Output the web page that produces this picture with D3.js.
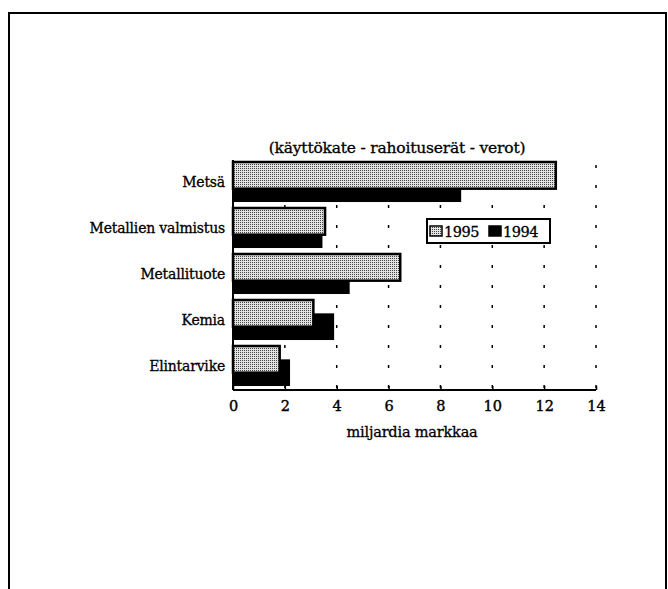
<!DOCTYPE html>
<html>
<head>
<meta charset="utf-8">
<script src="https://cdnjs.cloudflare.com/ajax/libs/d3/7.8.5/d3.min.js"></script>
<style>
body { margin: 0; background: #fff; }
</style>
</head>
<body>
<script>
'use strict';
let categories = ["Metsä", "Metallien valmistus", "Metallituote", "Kemia", "Elintarvike"];
let values1995 = [12.45, 3.55, 6.45, 3.1, 1.8];
let values1994 = [8.8, 3.45, 4.5, 3.9, 2.2];
let tickValues = [0, 2, 4, 6, 8, 10, 12, 14];
let seriesNames = ["1995", "1994"];

const serif = "'DejaVu Serif', serif";

let svg = d3.select("body").append("svg")
	.attr("width", 668)
	.attr("height", 589)
	.style("font-family", serif);

// dotted fill like the scanned screen
let defs = svg.append("defs");
let pat = defs.append("pattern")
	.attr("id", "dots")
	.attr("width", 2).attr("height", 2)
	.attr("patternUnits", "userSpaceOnUse");
pat.append("rect").attr("width", 2).attr("height", 2).attr("fill", "#e2e2e2");
pat.append("rect").attr("width", 1).attr("height", 1).attr("fill", "#444");

// outer frame (bottom edge runs off the page)
svg.append("path")
	.attr("d", "M9,600 V13 H666 V600")
	.attr("fill", "none")
	.attr("stroke", "#000")
	.attr("stroke-width", 2);

let x = d3.scaleLinear().domain([0, 14]).range([233, 596]);
let y = d3.scaleBand().domain(categories).range([160, 390]).padding(0);
let bw = y.bandwidth();
let barH = bw * 0.58;

// dotted grid lines
svg.selectAll("line.grid")
	.data(tickValues.slice(1))
	.enter().append("line")
		.attr("class", "grid")
		.attr("x1", function(d){return x(d);})
		.attr("x2", function(d){return x(d);})
		.attr("y1", 160)
		.attr("y2", 390)
		.attr("stroke", "#000")
		.attr("stroke-width", 1.5)
		.attr("stroke-dasharray", "3,17")
		.attr("stroke-dashoffset", -5);

// 1994 bars (behind)
svg.selectAll("rect.b1994")
	.data(values1994)
	.enter().append("rect")
		.attr("class", "b1994")
		.attr("x", x(0))
		.attr("y", function(d,i){return y(categories[i]) + 2 + barH/2;})
		.attr("width", function(d){return x(d) - x(0);})
		.attr("height", barH)
		.attr("fill", "#000");

// 1995 bars (front)
svg.selectAll("rect.b1995")
	.data(values1995)
	.enter().append("rect")
		.attr("class", "b1995")
		.attr("x", x(0))
		.attr("y", function(d,i){return y(categories[i]) + 2;})
		.attr("width", function(d){return x(d) - x(0);})
		.attr("height", barH)
		.attr("fill", "url(#dots)")
		.attr("stroke", "#000")
		.attr("stroke-width", 2.5);

// axes
let xAxis = svg.append("g")
	.attr("transform", "translate(0,390)")
	.call(d3.axisBottom(x).tickValues(tickValues).tickSize(-4).tickPadding(11));
xAxis.attr("font-family", null);
xAxis.select(".domain").attr("stroke-width", 2).attr("d", "M" + x(0) + ",0H" + x(14));
xAxis.selectAll(".tick line").attr("stroke-width", 1.5);
xAxis.selectAll("text")
	.style("font-family", serif)
	.style("font-size", "14.5px")
	.attr("stroke", "#000").attr("stroke-width", 0.4);

let yAxis = svg.append("g")
	.attr("transform", "translate(233,0)")
	.call(d3.axisLeft(y).tickSize(0).tickPadding(8));
yAxis.attr("font-family", null);
yAxis.select(".domain").attr("stroke-width", 2).attr("d", "M0,160V390");
yAxis.selectAll("text")
	.style("font-family", serif)
	.style("font-size", "14px")
	.style("letter-spacing", "-0.2px")
	.attr("stroke", "#000").attr("stroke-width", 0.3);

// title and axis label
svg.append("text")
	.attr("x", 397).attr("y", 153)
	.attr("text-anchor", "middle")
	.style("font-family", serif)
	.style("font-size", "15.5px")
	.style("letter-spacing", "-0.2px")
	.attr("stroke", "#000").attr("stroke-width", 0.3)
	.text("(käyttökate - rahoituserät - verot)");

svg.append("text")
	.attr("x", 412).attr("y", 437)
	.attr("text-anchor", "middle")
	.style("font-family", serif)
	.style("font-size", "14.5px")
	.style("letter-spacing", "-0.2px")
	.attr("stroke", "#000").attr("stroke-width", 0.3)
	.text("miljardia markkaa");

// legend
let legend = svg.append("g").attr("transform", "translate(427,219)");
legend.append("rect")
	.attr("width", 123).attr("height", 24)
	.attr("fill", "#fff")
	.attr("stroke", "#000")
	.attr("stroke-width", 2);
let items = legend.selectAll("g.item")
	.data(seriesNames)
	.enter().append("g")
		.attr("class", "item")
		.attr("transform", function(d,i){return "translate(" + (3 + i*59) + ",0)";});
items.append("rect")
	.attr("x", 0).attr("y", 7)
	.attr("width", 12).attr("height", 10)
	.attr("fill", function(d,i){return i === 0 ? "url(#dots)" : "#000";})
	.attr("stroke", "#000")
	.attr("stroke-width", 1.5);
items.append("text")
	.attr("x", 14).attr("y", 18)
	.style("font-family", serif)
	.style("font-size", "14.5px")
	.style("letter-spacing", "-0.5px")
	.attr("stroke", "#000").attr("stroke-width", 0.3)
	.text(function(d){return d;});
</script>
</body>
</html>
